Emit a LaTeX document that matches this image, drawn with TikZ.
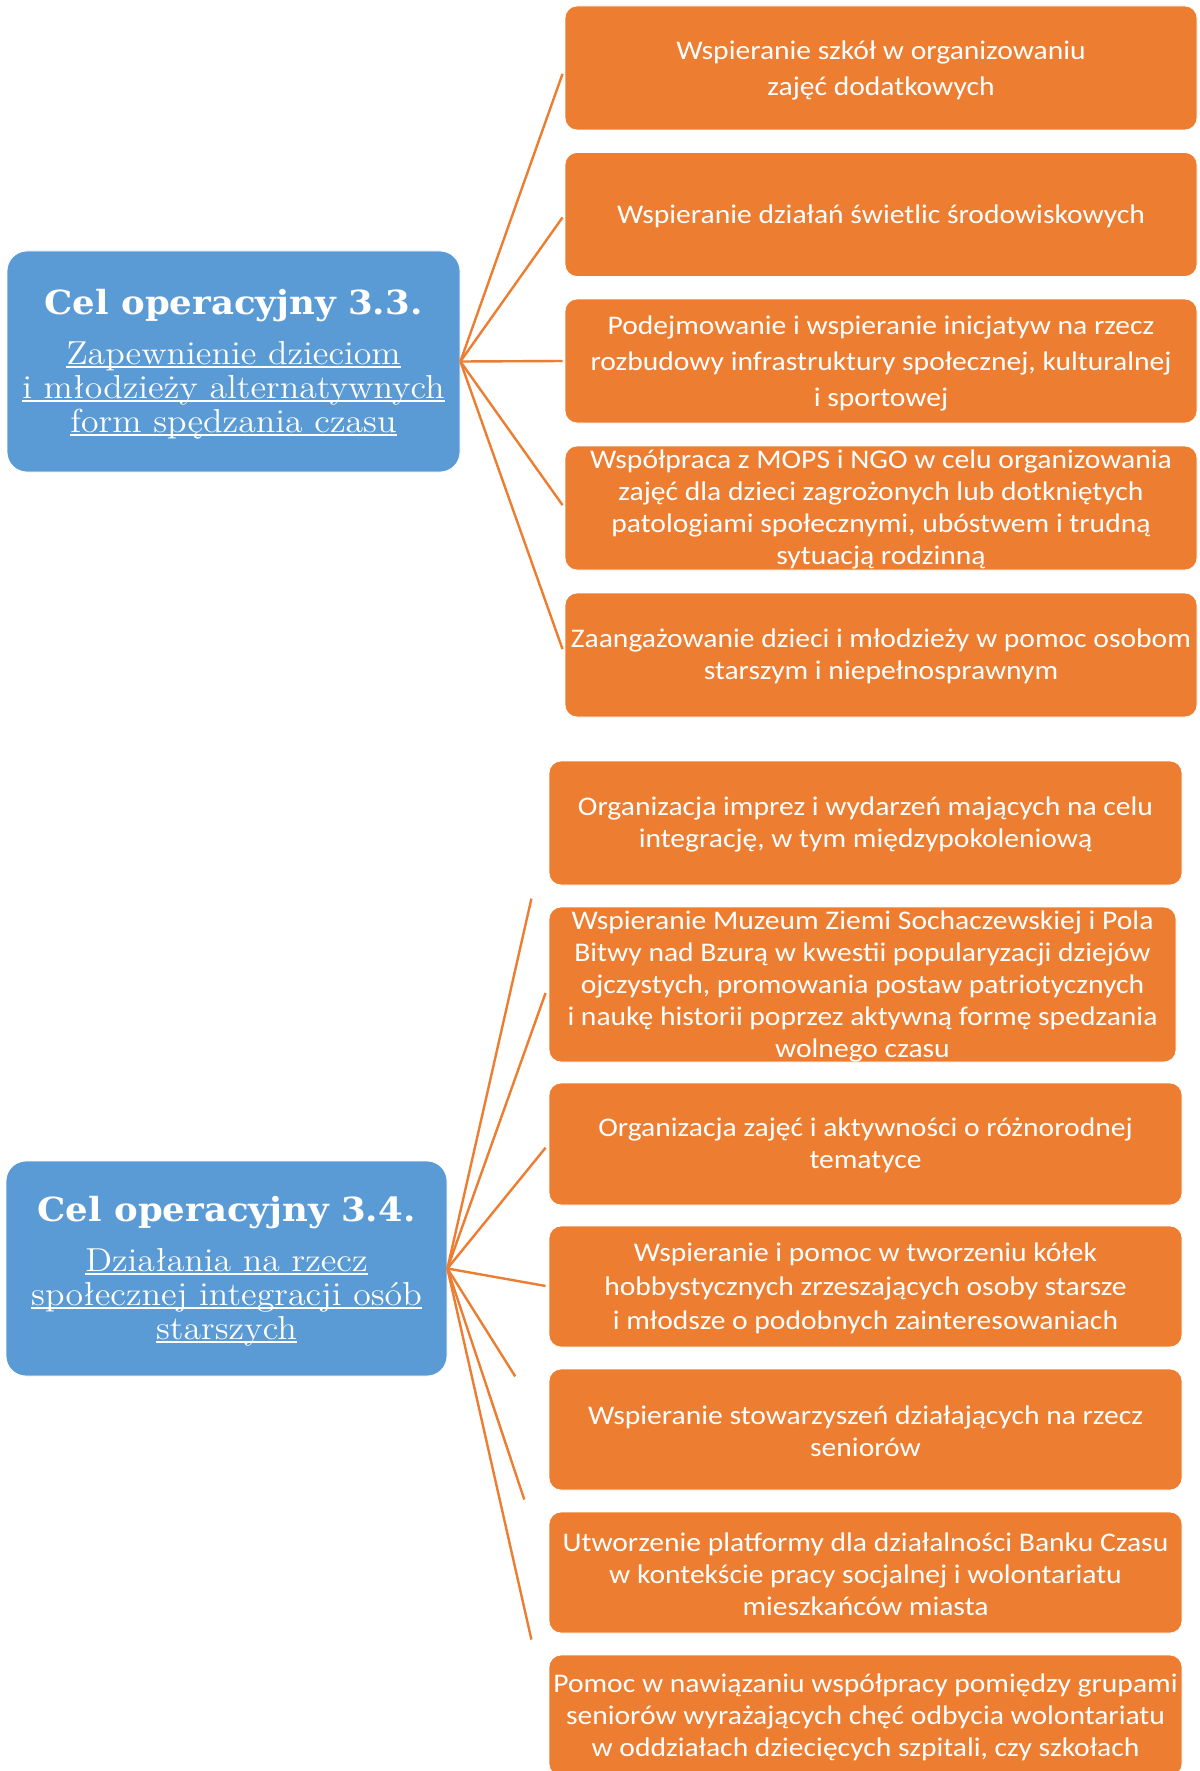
\documentclass[tikz,border=0pt]{standalone}
\usepackage{fontspec}
\usetikzlibrary{calc}
\newfontfamily\boxfont{Carlito}[FakeStretch=1.1]
\newfontfamily\headfont{DejaVu Serif}[FakeStretch=1.07]
\newfontfamily\subfont{lmroman12-regular.otf}[FakeStretch=1.08]
\definecolor{orangeA}{HTML}{ED7D31}
\definecolor{blueA}{HTML}{5B9BD5}
\newcommand\undl[1]{\setbox0\hbox{#1}\rlap{\rule[-1.6pt]{\wd0}{0.7pt}}\box0}
\tikzset{
  obox/.style={rectangle, rounded corners=6pt, fill=orangeA, draw=white, line width=0.4pt,
    inner sep=0pt, minimum width=316pt, minimum height=62pt},
  otxt/.style={text=white, align=center, inner sep=0pt, yshift=-0.8pt,
    font={\boxfont\fontsize{13.45}{16}\selectfont}},
  owide/.style={otxt, yshift=-0.6pt, font={\boxfont\fontsize{13.45}{18}\selectfont}},
  omid/.style={otxt, font={\boxfont\fontsize{13.45}{17}\selectfont}},
  gbox/.style={rectangle, rounded corners=10pt, fill=blueA, draw=white, line width=0.4pt,
    inner sep=0pt},
  gtxt/.style={text=white, align=center, inner sep=0pt, yshift=-1.4pt,
    font={\subfont\fontsize{16.6}{17}\selectfont}},
  link/.style={draw=orangeA, line width=1.2pt}
}
\newcommand\hd[1]{{\headfont\bfseries\fontsize{16.6}{17}\selectfont #1}}
\begin{document}
\begin{tikzpicture}[x=0.5pt,y=-0.5pt]
\fill[white] (0,0) rectangle (1199,1771);
\useasboundingbox (0,0) rectangle (1199,1771);

% ---------- Cel 3.3 ----------
\node[gbox, minimum width=226.5pt, minimum height=110.5pt,
  label={[gtxt]center:{\hd{Cel operacyjny 3.3.}\\[8pt]\undl{Zapewnienie dzieciom}\\\undl{i młodzieży alternatywnych}\\\undl{form spędzania czasu}}}] (g33) at (233.5,361.5) {};

\node[obox, label={[owide]center:{Wspieranie szkół w organizowaniu\\zajęć dodatkowych}}] (t1) at (881,68) {};
\node[obox, label={[otxt]center:{Wspieranie działań świetlic środowiskowych}}] (t2) at (881,214.5) {};
\node[obox, label={[owide]center:{Podejmowanie i wspieranie inicjatyw na rzecz\\rozbudowy infrastruktury społecznej, kulturalnej\\i sportowej}}] (t3) at (881,361) {};
\node[obox, label={[otxt]center:{Współpraca z MOPS i NGO w celu organizowania\\zajęć dla dzieci zagrożonych lub dotkniętych\\patologiami społecznymi, ubóstwem i trudną\\sytuacją rodzinną}}] (t4) at (881,508) {};
\node[obox, label={[otxt]center:{Zaangażowanie dzieci i młodzieży w pomoc osobom\\starszym i niepełnosprawnym}}] (t5) at (881,655) {};

\foreach \t in {t1,t2,t3,t4,t5} \draw[link] (g33.east) -- ($(g33.east)!0.98!(\t.west)$);

% ---------- Cel 3.4 ----------
\node[gbox, minimum width=220.5pt, minimum height=107.5pt,
  label={[gtxt]center:{\hd{Cel operacyjny 3.4.}\\[8pt]\undl{Działania na rzecz}\\\undl{społecznej integracji osób}\\\undl{starszych}}}] (g34) at (226.5,1268.5) {};

\node[obox, minimum width=316.5pt, label={[otxt]center:{Organizacja imprez i wydarzeń mających na celu\\integrację, w tym międzypokoleniową}}] (b1) at (865.5,823) {};
\node[obox, minimum width=313.5pt, minimum height=77.5pt, label={[otxt]center:{Wspieranie Muzeum Ziemi Sochaczewskiej i Pola\\Bitwy nad Bzurą w kwestii popularyzacji dziejów\\ojczystych, promowania postaw patriotycznych\\i naukę historii poprzez aktywną formę spedzania\\wolnego czasu}}] (b2) at (862.5,984.5) {};
\node[obox, minimum width=316.5pt, minimum height=61pt, label={[otxt]center:{Organizacja zajęć i aktywności o różnorodnej\\tematyce}}] (b3) at (865.5,1144) {};
\node[obox, minimum width=316.5pt, minimum height=60.5pt, label={[omid]center:{Wspieranie i pomoc w tworzeniu kółek\\hobbystycznych zrzeszających osoby starsze\\i młodsze o podobnych zainteresowaniach}}] (b4) at (865.5,1286.5) {};
\node[obox, minimum width=316.5pt, minimum height=60.5pt, label={[otxt]center:{Wspieranie stowarzyszeń działających na rzecz\\seniorów}}] (b5) at (865.5,1429.5) {};
\node[obox, minimum width=316.5pt, minimum height=60.5pt, label={[otxt]center:{Utworzenie platformy dla działalności Banku Czasu\\w kontekście pracy socjalnej i wolontariatu\\mieszkańców miasta}}] (b6) at (865.5,1572.5) {};
\node[obox, minimum width=316.5pt, minimum height=60.5pt, label={[otxt]center:{Pomoc w nawiązaniu współpracy pomiędzy grupami\\seniorów wyrażających chęć odbycia wolontariatu\\w oddziałach dziecięcych szpitali, czy szkołach}}] (b7) at (865.5,1715.5) {};

\coordinate (e1) at ($(g34.east)!0.83!(b1.west)$);
\coordinate (e2) at ($(g34.east)!0.97!(b2.west)$);
\coordinate (e3) at ($(g34.east)!0.97!(b3.west)$);
\coordinate (e4) at ($(g34.east)!0.97!(b4.west)$);
\coordinate (e5) at ($(g34.east)!0.67!(b5.west)$);
\coordinate (e6) at ($(g34.east)!0.76!(b6.west)$);
\coordinate (e7) at ($(g34.east)!0.83!(b7.west)$);
\foreach \e in {e1,e2,e3,e4,e5,e6,e7} \draw[link] (g34.east) -- (\e);
\end{tikzpicture}
\end{document}
